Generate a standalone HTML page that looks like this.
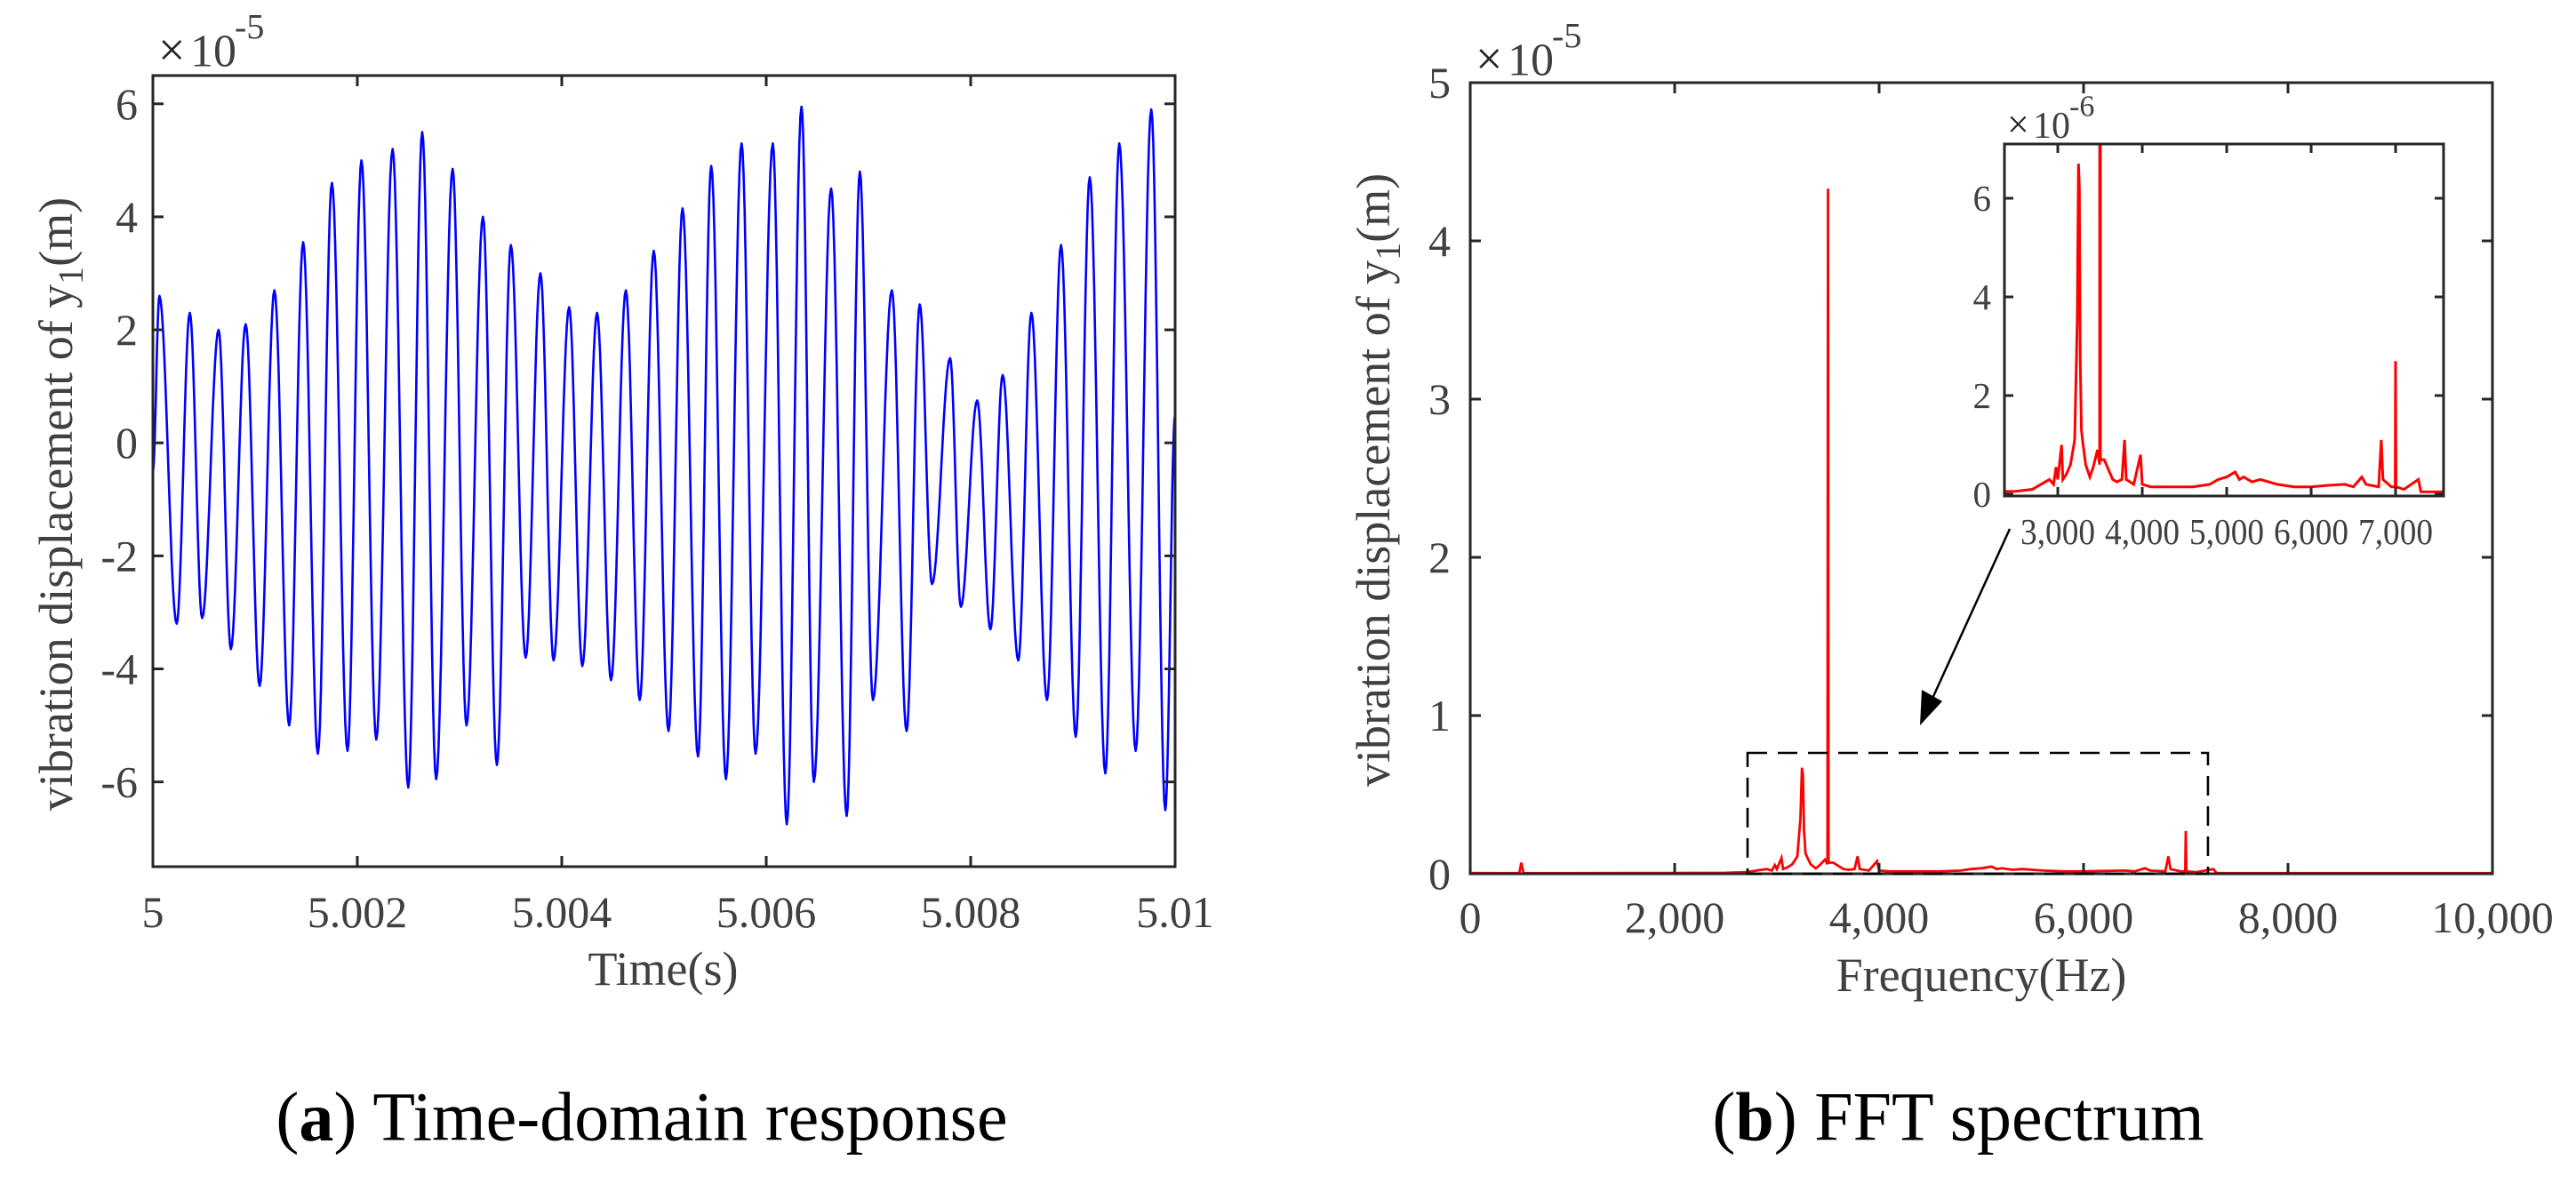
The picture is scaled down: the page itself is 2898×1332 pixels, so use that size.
<!DOCTYPE html>
<html><head><meta charset="utf-8"><style>
html,body{margin:0;padding:0;background:#fff;}
svg{display:block;font-family:"Liberation Serif","Times New Roman",serif;}
</style></head><body>
<svg id="fig" width="2898" height="1332" viewBox="0 0 2898 1332" xmlns="http://www.w3.org/2000/svg"></svg>
<script>
// ---- Time-domain data (extrema of signal), t offset in ms from 5 s, value in 1e-5 m
const timeMs = [0,0.064,0.233,0.361,0.482,0.643,0.763,0.908,1.044,1.189,1.333,1.470,1.614,1.751,1.904,2.040,2.185,2.345,2.498,2.635,2.771,2.932,3.068,3.229,3.365,3.502,3.647,3.791,3.920,4.072,4.201,4.345,4.482,4.627,4.763,4.900,5.044,5.181,5.333,5.462,5.606,5.759,5.896,6.064,6.201,6.345,6.466,6.635,6.787,6.916,7.044,7.229,7.373,7.502,7.622,7.799,7.904,8.064,8.193,8.313,8.466,8.594,8.747,8.884,9.028,9.165,9.317,9.454,9.614,9.767,9.904,10.0];
const dispVals = [-0.5,2.6,-3.2,2.3,-3.1,2.0,-3.65,2.1,-4.3,2.7,-5.0,3.55,-5.5,4.6,-5.45,5.0,-5.25,5.2,-6.1,5.5,-5.95,4.85,-5.0,4.0,-5.7,3.5,-3.8,3.0,-3.85,2.4,-3.95,2.3,-4.2,2.7,-4.55,3.4,-5.1,4.15,-5.55,4.9,-5.95,5.3,-5.5,5.3,-6.75,5.95,-6.0,4.5,-6.6,4.8,-4.55,2.7,-5.1,2.45,-2.5,1.5,-2.9,0.75,-3.3,1.2,-3.85,2.3,-4.55,3.5,-5.2,4.7,-5.85,5.3,-5.45,5.9,-6.5,0.5];
const timeTicks = [5,5.002,5.004,5.006,5.008,5.01];
const timeTickLabels = ["5","5.002","5.004","5.006","5.008","5.01"];
const dispTicks = [-6,-4,-2,0,2,4,6];

// ---- FFT spectrum data: frequency (Hz), amplitude in 1e-6 m
const specFreq = [0,200,480,500,520,1000,1500,2000,2500,2700,2800,2900,2950,2980,3000,3045,3060,3100,3150,3200,3230,3245,3255,3265,3280,3300,3330,3380,3420,3470,3495,3500,3505,3550,3600,3650,3700,3760,3790,3810,3900,3980,4000,4100,4300,4600,4800,4900,5000,5100,5150,5200,5300,5400,5600,5800,6000,6200,6400,6500,6600,6650,6800,6830,6850,6950,6995,7000,7005,7100,7270,7300,8000,9000,10000];
const specAmp  = [0.05,0.04,0.05,0.7,0.05,0.04,0.05,0.05,0.06,0.1,0.2,0.3,0.2,0.55,0.3,1.0,0.3,0.4,0.6,1.1,3.5,6.7,6.2,2.8,1.3,1.0,0.6,0.35,0.55,0.9,0.6,43.3,0.7,0.7,0.5,0.3,0.25,0.3,1.1,0.3,0.2,0.8,0.2,0.15,0.15,0.15,0.2,0.3,0.35,0.45,0.3,0.35,0.25,0.3,0.2,0.15,0.15,0.18,0.2,0.15,0.35,0.2,0.15,1.1,0.3,0.15,0.15,2.7,0.15,0.1,0.3,0.05,0.04,0.04,0.04];
const freqTicks = [0,2000,4000,6000,8000,10000];
const freqTickLabels = ["0","2,000","4,000","6,000","8,000","10,000"];
const ampTicks = [0,1,2,3,4,5];
const insetFreqTicks = [3000,4000,5000,6000,7000];
const insetFreqLabels = ["3,000","4,000","5,000","6,000","7,000"];
const insetAmpTicks = [0,2,4,6];

const NS="http://www.w3.org/2000/svg";
const svg=document.getElementById('fig');
function mk(tag,attrs,parent,name,inter){
  const e=document.createElementNS(NS,tag);
  for(const k in attrs) e.setAttribute(k,attrs[k]);
  
  
  (parent||svg).appendChild(e); return e;
}
function txt(x,y,s,size,anchor,fill,parent,name,extra){
  const t=mk('text',Object.assign({x:x,y:y,'font-size':size,'text-anchor':anchor||'middle','dominant-baseline':'central',fill:fill||'#404040'},extra||{}),parent,name,false);
  t.textContent=s; return t;
}
const AX='#262626';
const TS=50, TT=54;

// ================= Panel (a) =================
const A={l:172,r:1322,t:85,b:975,x0:5,x1:5.01,y0:-7.5,y1:6.5};
const ax=v=>A.l+(v-A.x0)/(A.x1-A.x0)*(A.r-A.l);
const ay=v=>A.b-(v-A.y0)/(A.y1-A.y0)*(A.b-A.t);
const gA=mk('g',{},svg,'time-domain-chart',false);
let d='';
for(let i=0;i<timeMs.length-1;i++){
  const t0=5+timeMs[i]/1000,t1=5+timeMs[i+1]/1000,v0=dispVals[i],v1=dispVals[i+1];
  const N=14;
  for(let k=(i===0?0:1);k<=N;k++){
    const f=k/N,s=(1-Math.cos(Math.PI*f))/2;
    const x=ax(t0+(t1-t0)*f),y=ay(v0+(v1-v0)*s);
    d+=(d?'L':'M')+x.toFixed(1)+' '+y.toFixed(1);
  }
}
mk('path',{d:d,fill:'none',stroke:'#0000ff','stroke-width':2.6,'stroke-linejoin':'round'},gA,'displacement-line',false);
mk('rect',{x:A.l,y:A.t,width:A.r-A.l,height:A.b-A.t,fill:'none',stroke:AX,'stroke-width':3},gA,'plot-frame-a',false);
timeTicks.forEach((v,i)=>{
  const x=ax(v);
  mk('line',{x1:x,x2:x,y1:A.b,y2:A.b-12,stroke:AX,'stroke-width':3},gA,'x-tick',false);
  mk('line',{x1:x,x2:x,y1:A.t,y2:A.t+12,stroke:AX,'stroke-width':3},gA,'x-tick-top',false);
  txt(x,1026,timeTickLabels[i],TS,'middle','#404040',gA,'x-tick-label');
});
dispTicks.forEach(v=>{
  const y=ay(v);
  mk('line',{x1:A.l,x2:A.l+12,y1:y,y2:y,stroke:AX,'stroke-width':3},gA,'y-tick',false);
  mk('line',{x1:A.r,x2:A.r-12,y1:y,y2:y,stroke:AX,'stroke-width':3},gA,'y-tick-right',false);
  txt(155,y,String(v),TS,'end','#404040',gA,'y-tick-label');
});
txt(178,56,'×',54,'start','#262626',gA,'exponent-times');
txt(214,58,'10',52,'start','#404040',gA,'exponent-base');
txt(264,30,'-5',40,'start','#404040',gA,'exponent-power');
const yla=txt(0,0,'',TT,'middle','#404040',gA,'y-axis-title',{transform:'translate(63,567) rotate(-90)'});
yla.innerHTML='vibration displacement of y<tspan font-size="40" dy="16">1</tspan><tspan dy="-16">(m)</tspan>';
txt(746,1090,'Time(s)',TT,'middle','#404040',gA,'x-axis-title');
const capA=txt(722,1256,'',78,'middle','#000',svg,'caption-a');
capA.innerHTML='(<tspan font-weight="bold">a</tspan>) Time-domain response';

// ================= Panel (b) =================
const B={l:1654,r:2804,t:93,b:983,x0:0,x1:10000,y0:0,y1:5};
const bx=v=>B.l+(v-B.x0)/(B.x1-B.x0)*(B.r-B.l);
const by=v=>B.b-(v-B.y0)/(B.y1-B.y0)*(B.b-B.t);
const gB=mk('g',{},svg,'fft-chart',false);
let d2='';
specFreq.forEach((f,i)=>{d2+=(i?'L':'M')+bx(f).toFixed(1)+' '+by(specAmp[i]/10).toFixed(1);});
mk('path',{d:d2,fill:'none',stroke:'#ff0000','stroke-width':2.8},gB,'spectrum-line',false);
mk('rect',{x:B.l,y:B.t,width:B.r-B.l,height:B.b-B.t,fill:'none',stroke:AX,'stroke-width':3},gB,'plot-frame-b',false);
freqTicks.forEach((v,i)=>{
  const x=bx(v);
  mk('line',{x1:x,x2:x,y1:B.b,y2:B.b-12,stroke:AX,'stroke-width':3},gB,'x-tick',false);
  mk('line',{x1:x,x2:x,y1:B.t,y2:B.t+12,stroke:AX,'stroke-width':3},gB,'x-tick-top',false);
  txt(x,1032,freqTickLabels[i],TS,'middle','#404040',gB,'x-tick-label');
});
ampTicks.forEach(v=>{
  const y=by(v);
  mk('line',{x1:B.l,x2:B.l+12,y1:y,y2:y,stroke:AX,'stroke-width':3},gB,'y-tick',false);
  mk('line',{x1:B.r,x2:B.r-12,y1:y,y2:y,stroke:AX,'stroke-width':3},gB,'y-tick-right',false);
  txt(1632,y,String(v),TS,'end','#404040',gB,'y-tick-label');
});
txt(1660,66,'×',54,'start','#262626',gB,'exponent-times');
txt(1696,68,'10',52,'start','#404040',gB,'exponent-base');
txt(1746,40,'-5',40,'start','#404040',gB,'exponent-power');
const ylb=txt(0,0,'',TT,'middle','#404040',gB,'y-axis-title',{transform:'translate(1545,540) rotate(-90)'});
ylb.innerHTML='vibration displacement of y<tspan font-size="40" dy="16">1</tspan><tspan dy="-16">(m)</tspan>';
txt(2229,1097,'Frequency(Hz)',TT,'middle','#404040',gB,'x-axis-title');
const capB=txt(2203,1256,'',78,'middle','#000',svg,'caption-b');
capB.innerHTML='(<tspan font-weight="bold">b</tspan>) FFT spectrum';
const zF0=2713,zF1=7217,zA=0.764;
mk('rect',{x:bx(zF0),y:by(zA),width:bx(zF1)-bx(zF0),height:by(0)-by(zA),fill:'none',stroke:'#000','stroke-width':2.6,'stroke-dasharray':'22 12'},gB,'zoom-region-box',false);
const arl=mk('line',{x1:2261,y1:595,x2:2172,y2:790,stroke:'#000','stroke-width':2.5},gB,'zoom-arrow-line',false);
mk('polygon',{points:'2160,816 2162,776 2185,789',fill:'#000'},gB,'zoom-arrow-head',false);

// ================= Inset =================
const I={l:2255,r:2749,t:162,b:556,x0:2368,x1:7568,y0:0,y1:7.1};
const ix=v=>I.l+(v-I.x0)/(I.x1-I.x0)*(I.r-I.l);
const iy=v=>I.b-(v-I.y0)/(I.y1-I.y0)*(I.b-I.t);
const gI=mk('g',{},gB,'inset-chart',false);
mk('rect',{x:I.l,y:I.t,width:I.r-I.l,height:I.b-I.t+2,fill:'#fff'},gI,'inset-background',false);
const cp=mk('clipPath',{id:'insetClip'},gI,'inset-clip',false);
mk('rect',{x:I.l,y:I.t,width:I.r-I.l,height:I.b-I.t},cp,'inset-clip-rect',false);
let d3='';
specFreq.forEach((f,i)=>{d3+=(i?'L':'M')+ix(f).toFixed(1)+' '+iy(specAmp[i]).toFixed(1);});
mk('path',{d:d3,fill:'none',stroke:'#ff0000','stroke-width':3,'clip-path':'url(#insetClip)'},gI,'inset-spectrum-line',false);
mk('rect',{x:I.l,y:I.t,width:I.r-I.l,height:I.b-I.t+2,fill:'none',stroke:AX,'stroke-width':3},gI,'inset-frame',false);
insetFreqTicks.forEach((v,i)=>{
  const x=ix(v);
  mk('line',{x1:x,x2:x,y1:I.b+2,y2:I.b-8,stroke:AX,'stroke-width':3},gI,'inset-x-tick',false);
  mk('line',{x1:x,x2:x,y1:I.t,y2:I.t+10,stroke:AX,'stroke-width':3},gI,'inset-x-tick-top',false);
  txt(x,598,insetFreqLabels[i],41,'middle','#404040',gI,'inset-x-tick-label',{textLength:84,lengthAdjust:'spacingAndGlyphs'});
});
insetAmpTicks.forEach(v=>{
  const y=iy(v);
  mk('line',{x1:I.l,x2:I.l+10,y1:y,y2:y,stroke:AX,'stroke-width':3},gI,'inset-y-tick',false);
  mk('line',{x1:I.r,x2:I.r-10,y1:y,y2:y,stroke:AX,'stroke-width':3},gI,'inset-y-tick-right',false);
  txt(2240,y,String(v),41,'end','#404040',gI,'inset-y-tick-label');
});
txt(2258,140,'×',44,'start','#262626',gI,'inset-exponent-times');
txt(2287,142,'10',42,'start','#404040',gI,'inset-exponent-base');
txt(2328,120,'-6',34,'start','#404040',gI,'inset-exponent-power');
</script>
</body></html>
